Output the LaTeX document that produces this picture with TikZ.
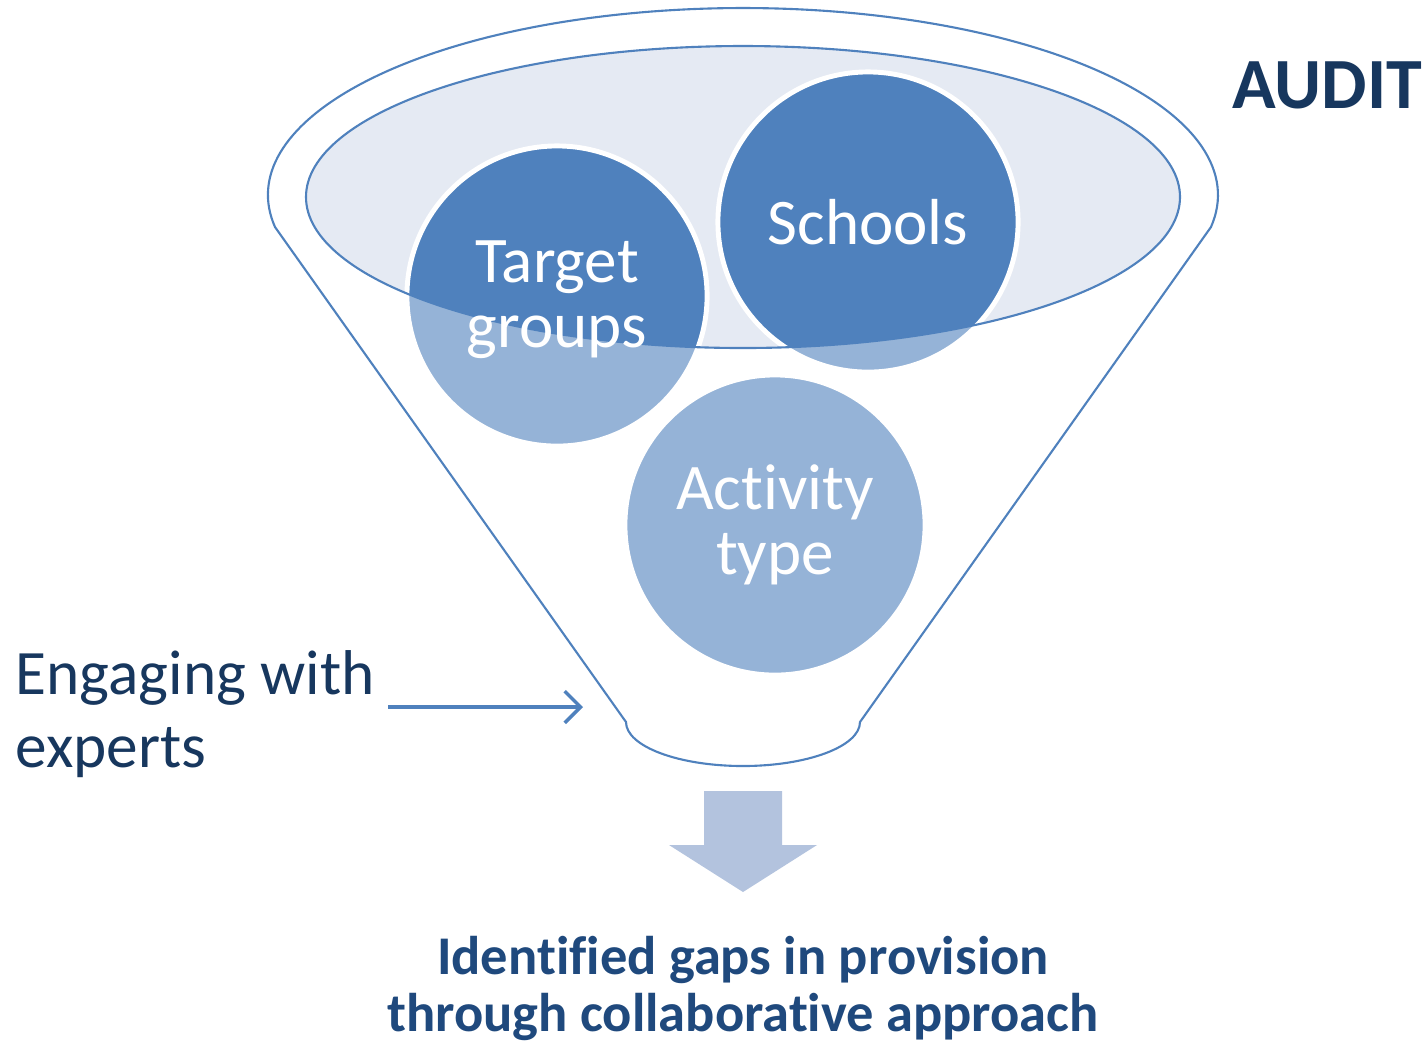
\documentclass[tikz,border=0pt]{standalone}
\usepackage{fontspec}
\setmainfont{Carlito}[Ligatures=NoCommon]
\usetikzlibrary{arrows.meta}

\definecolor{funblue}{HTML}{4F81BD}
\definecolor{rimfill}{HTML}{E5EAF3}
\definecolor{bubdark}{HTML}{4F81BD}
\definecolor{bublight}{HTML}{95B3D7}
\definecolor{navy}{HTML}{17375E}
\definecolor{gapnavy}{HTML}{1F497D}
\definecolor{downfill}{HTML}{B3C3DE}

\begin{document}
\begin{tikzpicture}[x=0.01cm,y=-0.01cm,
    funline/.style={draw=funblue,line width=0.6pt},
    bubble/.style={circle,inner sep=0pt,minimum size=3cm,fill=bublight,
                   draw=white,line width=1.4pt,
                   path picture={\fill[bubdark] (ec) ellipse [x radius=437,y radius=151];}},
    bubtxt/.style={align=center,text=white,font=\fontsize{18.5}{18.5}\selectfont},
    sidetxt/.style={align=left,text=navy,font=\fontsize{18}{20.8}\selectfont},
    >={Straight Barb[length=4.5pt,width=9pt]}]

\useasboundingbox (0,0) rectangle (1427,1041);

% funnel body
\coordinate (ec) at (743,197);
\draw[funline] (275,227) arc[start angle=170.15,end angle=369.85,x radius=475,y radius=187]
   -- (860,722) arc[start angle=0,end angle=180,x radius=117,y radius=44] -- cycle;
\fill[rimfill] (ec) ellipse [x radius=437,y radius=151];

% the three circles
\node[bubble] (tg)  at (557,296) {};
\node[bubble] (sch) at (868,222) {};
\node[bubble] (act) at (775,525) {};

\draw[funline] (ec) ellipse [x radius=437,y radius=151];

\node[bubtxt] (tgtxt)  at (557,300) {Target\\groups};
\node[bubtxt] (schtxt) at (sch) {Schools};
\node[bubtxt] (acttxt) at (act) {Act\kern0pt ivity\\type};

% labels
\node[font=\fontsize{20.5}{22}\selectfont\bfseries,text=navy,anchor=base east,inner sep=0pt] (audit) at (1423,108) {AUDIT};
\node[sidetxt,anchor=north west,inner sep=0pt] (eng) at (15,650) {Engaging with\\experts};
\coordinate (engstart) at (388,707);
\coordinate (engtip) at (583,707);
\draw[->,draw=funblue,line width=1pt] (engstart) -- (engtip);

% output arrow
\fill[downfill] (704,791) -- (782,791) -- (782,845) -- (817,845) -- (743,892)
   -- (669,845) -- (704,845) -- cycle;
\node[align=center,text=gapnavy,font=\fontsize{15.5}{16.2}\selectfont\bfseries,inner sep=0pt,anchor=north] (gaps) at (743,936)
   {Identified gaps in provision\\through collaborat\kern0pt ive approach};

\end{tikzpicture}
\end{document}
